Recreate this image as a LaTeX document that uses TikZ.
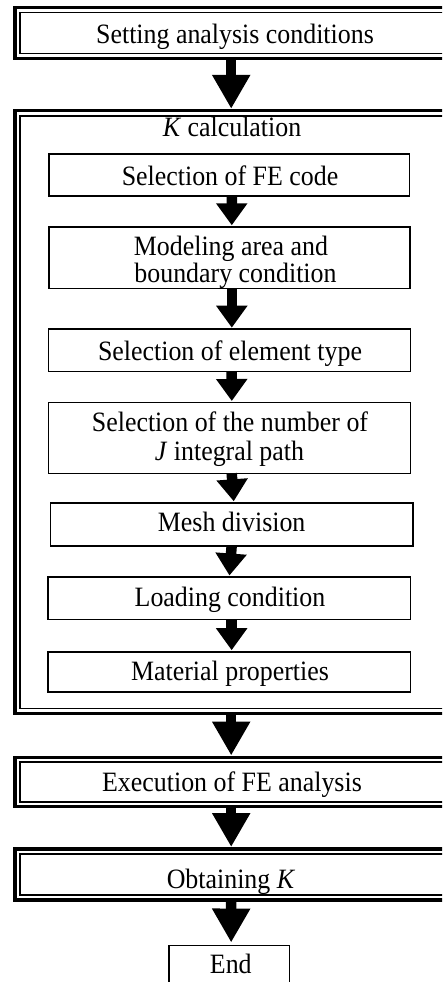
\documentclass[tikz,border=0pt]{standalone}
\usepackage{fontspec}
\setmainfont[FakeStretch=0.925]{Liberation Serif}
\usetikzlibrary{arrows.meta}
\newcommand\flowfs{\fontsize{28}{28.3}\selectfont}
\tikzset{
  outerbox/.style={draw, line width=3.2pt, inner sep=0pt, outer sep=0pt, minimum width=436pt},
  innerline/.style={line width=1.8pt},
  stepbox/.style={draw, line width=1.6pt, inner sep=0pt, outer sep=0pt},
  txt/.style={inner sep=0pt, outer sep=0pt, font=\flowfs, align=center},
  bigarrow/.style={line width=10.5pt, -{Triangle[width=36pt,length=34pt]}, shorten >=2pt},
  smallarrow/.style={line width=10.5pt, -{Triangle[width=30pt,length=22pt]}, shorten >=1.5pt},
}
\newcommand\innerframe[1]{\draw[innerline] ([xshift=4.8pt,yshift=-4.8pt]#1.north west) rectangle ([xshift=-4.8pt,yshift=4.8pt]#1.south east);}
\begin{document}
\begin{tikzpicture}[x=1pt,y=-1pt]
\useasboundingbox (0,0) rectangle (442,982);
\clip (0,0) rectangle (442,982);
% double-framed boxes
\node[outerbox, minimum height=50.6pt] (b1) at (233,33) {};
\innerframe{b1}
\node[outerbox, minimum height=602.5pt] (b2) at (233,412.05) {};
\innerframe{b2}
\node[outerbox, minimum height=49.2pt] (b3) at (233,782.1) {};
\innerframe{b3}
\node[outerbox, minimum height=51pt] (b4) at (233,874.5) {};
\innerframe{b4}
% inner steps
\node[stepbox, minimum width=360.3pt, minimum height=41.6pt] (s1) at (229.35,175) {};
\node[stepbox, minimum width=361pt, minimum height=61.5pt] (s2) at (229.4,257.55) {};
\node[stepbox, minimum width=362.2pt, minimum height=42.3pt] (s3) at (229.4,350.35) {};
\node[stepbox, minimum width=362pt, minimum height=70.8pt] (s4) at (229.5,437.9) {};
\node[stepbox, minimum width=362.3pt, minimum height=43pt] (s5) at (231.65,524.3) {};
\node[stepbox, minimum width=362.3pt, minimum height=42.3pt] (s6) at (229.35,598.15) {};
\node[stepbox, minimum width=362.3pt, minimum height=40.5pt] (s7) at (229.35,671.95) {};
\node[stepbox, minimum width=120.7pt, minimum height=60pt] (e) at (229.15,975.5) {};
% texts
\node[txt, anchor=base] (t1) at (235,43.3) {Setting analysis conditions};
\node[txt, anchor=base] (tk) at (232,136.7) {\textit{K} calculation};
\node[txt, anchor=base] (ts1) at (230,185) {Selection of FE code};
\node[txt, anchor=base] (ts2a) at (231,255) {Modeling area and};
\node[txt, anchor=base] (ts2b) at (235.5,282.7) {boundary condition};
\node[txt, anchor=base] (ts3) at (230,360) {Selection of element type};
\node[txt, anchor=base] (ts4a) at (230,431.7) {Selection of the number of};
\node[txt, anchor=base] (ts4b) at (229.5,460) {\textit{J} integral path};
\node[txt, anchor=base] (ts5) at (231.7,531.7) {Mesh division};
\node[txt, anchor=base] (ts6) at (230,606) {Loading condition};
\node[txt, anchor=base] (ts7) at (230,680) {Material properties};
\node[txt, anchor=base] (t3) at (232,791.7) {Execution of FE analysis};
\node[txt, anchor=base] (t4) at (231,888.3) {Obtaining \textit{K}};
\node[txt, anchor=base] (te) at (230.8,973.3) {End};
% arrows
\draw[bigarrow] ([xshift=-1.8pt]b1.south) -- ([xshift=-1.8pt]b2.north);
\draw[smallarrow] ([xshift=2.4pt]s1.south) -- ([xshift=2.4pt]s2.north);
\draw[smallarrow] ([xshift=2.4pt]s2.south) -- ([xshift=2.4pt]s3.north);
\draw[smallarrow] ([xshift=2.3pt]s3.south) -- ([xshift=2.3pt]s4.north);
\draw[smallarrow] ([xshift=2.2pt]s4.south) -- ([xshift=2.2pt]s5.north);
\draw[smallarrow] ([xshift=0pt]s5.south) -- ([xshift=0pt]s6.north);
\draw[smallarrow] ([xshift=2.3pt]s6.south) -- ([xshift=2.3pt]s7.north);
\draw[bigarrow] ([xshift=-1.8pt]b2.south) -- ([xshift=-1.8pt]b3.north);
\draw[bigarrow] ([xshift=-1.8pt]b3.south) -- ([xshift=-1.8pt]b4.north);
\draw[bigarrow, shorten >=3pt] ([xshift=-1.8pt]b4.south) -- ([xshift=2pt]e.north);
\end{tikzpicture}
\end{document}
